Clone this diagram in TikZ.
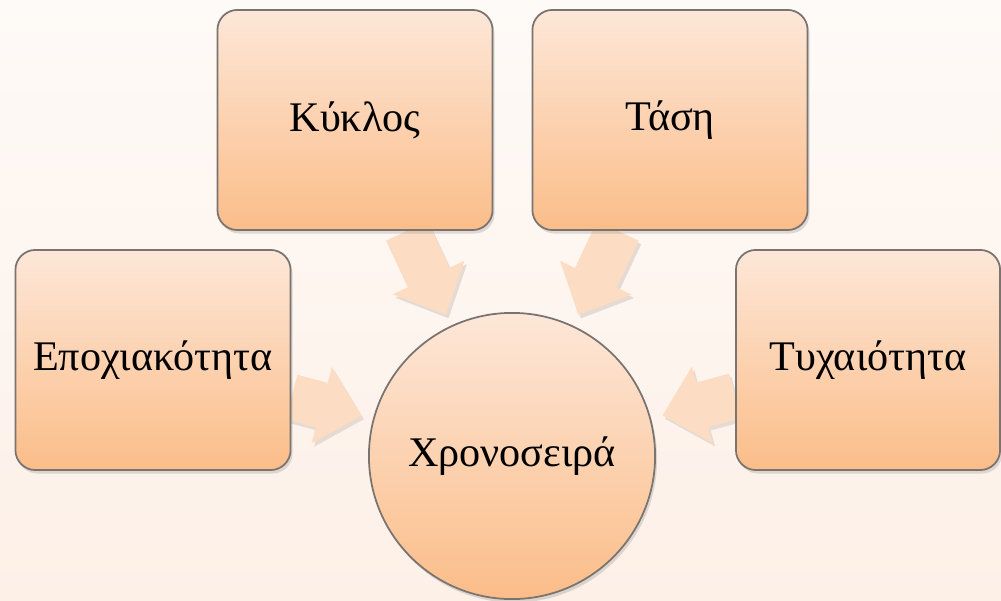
\documentclass[tikz,border=0pt]{standalone}
\usepackage{fontspec}
\setmainfont{Liberation Serif}
\usetikzlibrary{arrows.meta,shadows}
\definecolor{bgtop}{HTML}{FEFAF7}
\definecolor{bgbot}{HTML}{FDF0E7}
\definecolor{boxtop}{HTML}{FDE7D8}
\definecolor{boxbot}{HTML}{FBBD89}
\definecolor{arrfill}{HTML}{FCDDC4}
\definecolor{arrshade}{HTML}{E6DBD3}
\definecolor{edgegray}{HTML}{7A7470}
\pgfdeclarelayer{bg}
\pgfsetlayers{bg,main}
\tikzset{
  x=0.01cm, y=-0.01cm,
  part/.style={rectangle, rounded corners=0.2cm, draw=edgegray, line width=0.5pt,
    top color=boxtop, bottom color=boxbot, minimum width=2.75cm, minimum height=2.2cm,
    drop shadow={opacity=0.25, shadow xshift=0.02cm, shadow yshift=-0.035cm},
    font=\fontsize{12}{14}\selectfont},
  whole/.style={circle, draw=edgegray, line width=0.5pt, inner sep=0pt,
    top color=boxtop, bottom color=boxbot, minimum size=2.86cm,
    drop shadow={opacity=0.25, shadow xshift=0.02cm, shadow yshift=-0.035cm},
    font=\fontsize{12}{14}\selectfont},
  fatarrow/.style={line width=0.46cm, draw=arrfill,
    -{Triangle[length=0.41cm, width=0.79cm, line width=0pt]}, shorten >=0.12cm}
}
\newcommand{\fatarrow}[2]{\draw[fatarrow, draw=arrshade, transform canvas={xshift=0.025cm, yshift=-0.035cm}] (#1) -- (#2); \draw[fatarrow] (#1) -- (#2);}

\begin{document}
\begin{tikzpicture}
    \useasboundingbox (0,0) rectangle (1001,601);
    \node[part] (kyklos) at (355,120) {Κύκλος};
    \node[part] (tasi) at (670,120) {Τάση};
    \node[part] (epoxi) at (153,360) {Εποχιακότητα};
    \node[part, minimum width=2.64cm] (tyxai) at (868,360) {Τυχαιότητα};
    \node[whole] (xron) at (512,456) {Χρονοσειρά};
    \begin{pgfonlayer}{bg}
        \shade[top color=bgtop, bottom color=bgbot] (0,0) rectangle (1001,601);
        \fatarrow{kyklos}{xron}
        \fatarrow{tasi}{xron}
        \fatarrow{epoxi}{xron}
        \fatarrow{tyxai}{xron}
    \end{pgfonlayer}
\end{tikzpicture}
\end{document}
